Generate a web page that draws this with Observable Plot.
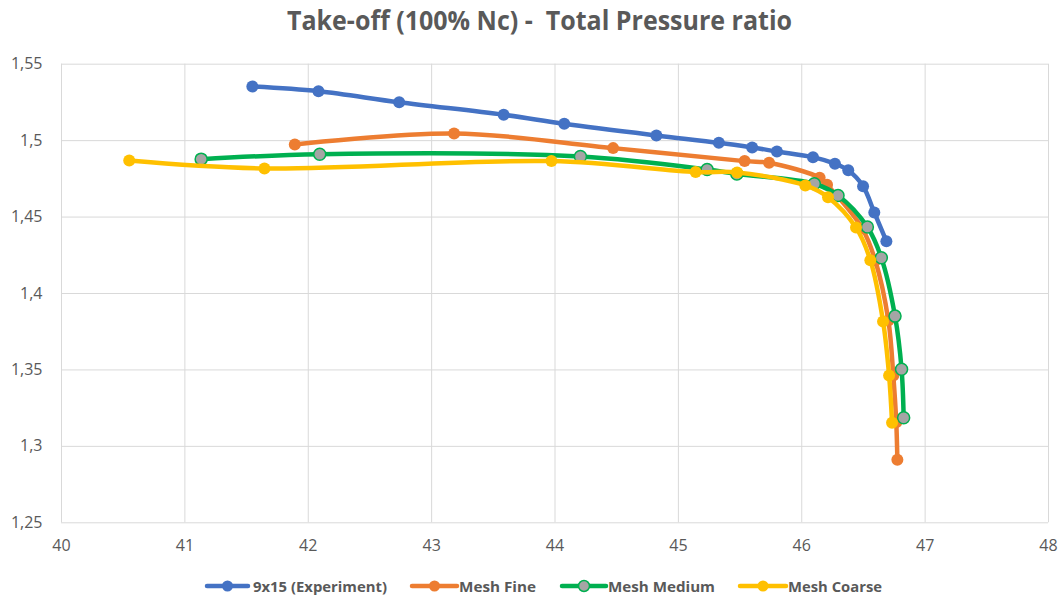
<!DOCTYPE html>
<html>
<head>
<meta charset="utf-8">
<script src="https://cdn.jsdelivr.net/npm/d3@7"></script>
<script src="https://cdn.jsdelivr.net/npm/@observablehq/plot@0.6"></script>
<style>
  body { margin: 0; background: #fff; width: 1064px; height: 598px; overflow: hidden; font-family: "Open Sans", sans-serif; }
  svg { display: block; }
  #title text { white-space: pre; }
</style>
</head>
<body>
<svg id="title" width="1064" height="40"></svg>
<div id="chart"></div>
<svg id="legend" width="1064" height="38"></svg>
<script>
// Axis ticks
const xTicks = [40, 41, 42, 43, 44, 45, 46, 47, 48];
const yTicks = [1.25, 1.3, 1.35, 1.4, 1.45, 1.5, 1.55];

// 9x15 (Experiment)
const expX = [41.547, 42.083, 42.737, 43.584, 44.075, 44.822, 45.328, 45.598, 45.799, 46.091, 46.269, 46.377, 46.497, 46.588, 46.686];
const expY = [1.5354, 1.5323, 1.5251, 1.5169, 1.5110, 1.5034, 1.4986, 1.4955, 1.4929, 1.4892, 1.4849, 1.4806, 1.4702, 1.4530, 1.4342];

// Mesh Fine
const fineX = [41.891, 43.182, 44.471, 45.537, 45.735, 46.145, 46.205, 46.491, 46.596, 46.702, 46.742, 46.766, 46.775];
const fineY = [1.4975, 1.5047, 1.4951, 1.4866, 1.4855, 1.4757, 1.4711, 1.4425, 1.4216, 1.3824, 1.3464, 1.3157, 1.2913];

// Mesh Medium
const medX = [41.132, 42.093, 44.206, 45.233, 45.474, 46.102, 46.294, 46.532, 46.645, 46.756, 46.809, 46.826];
const medY = [1.4879, 1.4911, 1.4896, 1.4811, 1.4782, 1.4718, 1.4641, 1.4435, 1.4234, 1.3852, 1.3505, 1.3187];

// Mesh Coarse
const coarseX = [40.549, 41.645, 43.971, 45.140, 45.476, 46.029, 46.213, 46.440, 46.556, 46.659, 46.708, 46.732];
const coarseY = [1.4870, 1.4818, 1.4866, 1.4795, 1.4792, 1.4707, 1.4630, 1.4431, 1.4218, 1.3817, 1.3464, 1.3155];

const seriesNames = ["9x15 (Experiment)", "Mesh Fine", "Mesh Medium", "Mesh Coarse"];

const series = [
  {name: seriesNames[0], xs: expX, ys: expY, line: "#4472C4", fill: "#4472C4", ring: "#4472C4", ringW: 0},
  {name: seriesNames[1], xs: fineX, ys: fineY, line: "#ED7D31", fill: "#ED7D31", ring: "#ED7D31", ringW: 0},
  {name: seriesNames[2], xs: medX, ys: medY, line: "#00B050", fill: "#A5A5A5", ring: "#00B050", ringW: 1.5},
  {name: seriesNames[3], xs: coarseX, ys: coarseY, line: "#FFC000", fill: "#FFC000", ring: "#FFC000", ringW: 0}
];

const rows = s => s.xs.map((x, i) => ({x, y: s.ys[i]}));
const commaFmt = d => d3.format(".2~f")(d).replace(".", ",");
const intFmt = d3.format("d");

const marks = [
  Plot.gridX(xTicks, {stroke: "#d9d9d9", strokeOpacity: 1}),
  Plot.gridY(yTicks, {stroke: "#d9d9d9", strokeOpacity: 1}),
  Plot.axisX(xTicks, {tickSize: 0, tickPadding: 17, fontSize: 16, fill: "#595959", tickFormat: intFmt}),
  Plot.axisY(yTicks, {tickSize: 0, tickPadding: 19, fontSize: 16, fill: "#595959", tickFormat: commaFmt})
];
for (const s of series) {
  const d = rows(s);
  marks.push(Plot.line(d, {x: "x", y: "y", curve: "catmull-rom", stroke: s.line, strokeWidth: 4.5}));
  marks.push(Plot.dot(d, {x: "x", y: "y", r: 6, fill: s.fill, stroke: s.ring, strokeWidth: s.ringW}));
}

const chart = Plot.plot({
  width: 1064,
  height: 520,
  marginLeft: 61,
  marginRight: 16,
  marginTop: 23.7,
  marginBottom: 37.7,
  style: {fontFamily: "'Open Sans', sans-serif", fontSize: "16px", color: "#595959", background: "white"},
  x: {domain: [40, 48], label: null},
  y: {domain: [1.25, 1.55], label: null},
  marks
});
document.getElementById("chart").append(chart);

// Title
const title = d3.select("#title");
title.append("text")
  .attr("x", 539.5).attr("y", 30)
  .attr("text-anchor", "middle")
  .attr("font-family", "'Open Sans', sans-serif")
  .attr("font-weight", 700)
  .attr("font-size", 26)
  .attr("fill", "#595959")
  .attr("textLength", 505)
  .attr("lengthAdjust", "spacingAndGlyphs")
  .text("Take-off (100% Nc) -  Total Pressure ratio");

// Legend
const legendLayout = [
  {x0: 207, x1: 248, label: 253, w: 134},
  {x0: 412, x1: 457, label: 459, w: 77},
  {x0: 562, x1: 606, label: 608, w: 107},
  {x0: 740, x1: 786, label: 788, w: 94}
];
const legend = d3.select("#legend");
series.forEach((s, i) => {
  const L = legendLayout[i];
  const cy = 26;
  legend.append("line").attr("x1", L.x0).attr("x2", L.x1).attr("y1", cy).attr("y2", cy)
    .attr("stroke", s.line).attr("stroke-width", 4.5).attr("stroke-linecap", "round");
  legend.append("circle").attr("cx", (L.x0 + L.x1) / 2).attr("cy", cy).attr("r", 5.5)
    .attr("fill", s.fill).attr("stroke", s.ring).attr("stroke-width", s.ringW);
  legend.append("text").attr("x", L.label).attr("y", cy + 5.5)
    .attr("font-family", "'Open Sans', sans-serif").attr("font-weight", 700).attr("font-size", 15)
    .attr("fill", "#595959")
    .attr("textLength", L.w).attr("lengthAdjust", "spacingAndGlyphs")
    .text(s.name);
});
</script>
</body>
</html>
